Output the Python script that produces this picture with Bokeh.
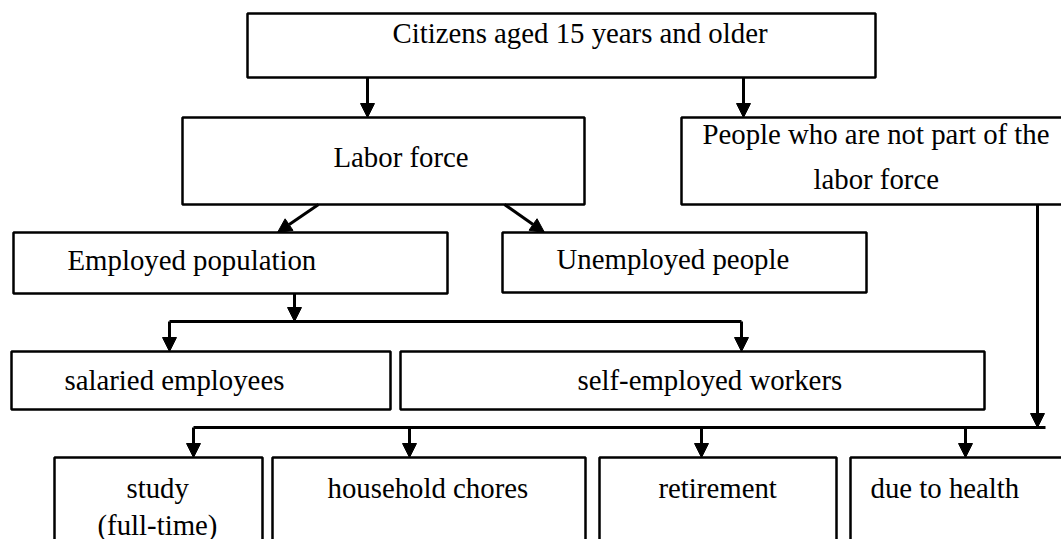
from bokeh.plotting import figure
from bokeh.models import Range1d, Arrow, NormalHead, ColumnDataSource
from bokeh.core.properties import value
from bokeh.embed import file_html
from bokeh.resources import INLINE

# ---- boxes (reference pixel coordinates, y grows downward) ----
box_names = ["citizens", "labor", "notlabor", "employed", "unemployed",
             "salaried", "selfemp", "study", "household", "retire", "health"]
box_left = [247, 182, 681, 13, 502, 11, 400, 54, 272, 599, 850]
box_right = [875, 584, 1075, 447, 866, 390, 984, 262, 585, 836, 1075]
box_top = [13, 117, 117, 232, 232, 351, 351, 457, 457, 457, 457]
box_bottom = [77, 204, 204, 293, 292, 409, 409, 560, 560, 560, 560]

# ---- texts ----
text_labels = ["Citizens aged 15 years and older", "Labor force",
               "People who are not part of the", "labor force",
               "Employed population", "Unemployed people",
               "salaried employees", "self-employed workers",
               "study", "(full-time)", "household chores",
               "retirement", "due to health"]
text_x = [392, 333, 702, 813, 67, 556, 64, 577, 126, 97, 327, 658, 870]
text_y = [41, 165, 142, 187, 268, 267, 388, 388, 496, 533, 496, 496, 496]

# ---- arrows (start -> end) ----
arrow_x0 = [367, 743, 318, 504, 294, 169, 741, 1037, 193, 409, 701, 965]
arrow_y0 = [77, 77, 204, 204, 293, 321, 321, 204, 427, 427, 427, 427]
arrow_x1 = [367, 743, 277, 544, 294, 169, 741, 1037, 193, 409, 701, 965]
arrow_y1 = [117, 117, 232, 232, 321, 351, 351, 427, 457, 457, 457, 457]

# ---- plain connector lines ----
line_x0 = [169, 193]
line_x1 = [741, 1045]
line_y = [321, 427]

p = figure(width=1061, height=539, output_backend="svg", toolbar_location=None,
           x_range=Range1d(0, 1061), y_range=Range1d(539, 0),
           x_axis_location=None, y_axis_location=None,
           min_border=0, outline_line_color=None,
           background_fill_color="white", border_fill_color="white")
p.xgrid.visible = False
p.ygrid.visible = False

box_src = ColumnDataSource(dict(left=box_left, right=box_right,
                                top=box_top, bottom=box_bottom, name=box_names))
p.quad(left="left", right="right", top="top", bottom="bottom", source=box_src,
       fill_color="white", line_color="black", line_width=2.5)

p.segment(x0=line_x0, y0=line_y, x1=line_x1, y1=line_y,
          line_color="black", line_width=3)

for xa, ya, xb, yb in zip(arrow_x0, arrow_y0, arrow_x1, arrow_y1):
    p.add_layout(Arrow(x_start=xa, y_start=ya, x_end=xb, y_end=yb,
                       line_color="black", line_width=3,
                       end=NormalHead(size=14, fill_color="black", line_color="black",
                                      line_width=1)))

txt_src = ColumnDataSource(dict(x=text_x, y=text_y, t=text_labels))
p.text(x="x", y="y", text="t", source=txt_src, text_align="left",
       text_baseline="alphabetic", text_font=value("Liberation Serif"),
       text_font_size="28.8px", text_color="black", y_offset=-9)

open("out.html", "w").write(file_html(p, INLINE))
